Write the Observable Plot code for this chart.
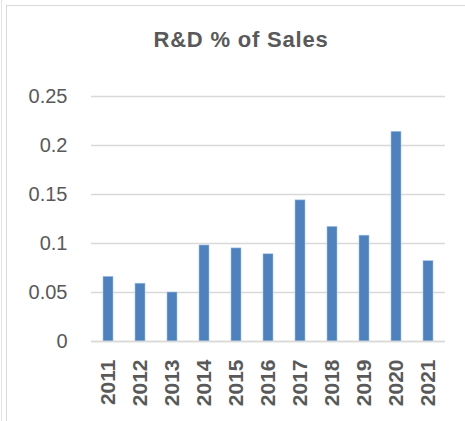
<!DOCTYPE html>
<html>
<head>
<meta charset="utf-8">
<script src="https://cdn.jsdelivr.net/npm/d3@7"></script>
<script src="https://cdn.jsdelivr.net/npm/@observablehq/plot@0.6"></script>
<style>
  html, body { margin: 0; padding: 0; background: #fff; }
  #wrap { position: relative; width: 465px; height: 421px; overflow: hidden; }
  #edge { position: absolute; left: 1px; top: 0; width: 1px; height: 421px; background: #e3e3e3; }
  #frame { position: absolute; left: 6px; top: 5px; width: 480px; height: 440px; border: 1px solid #d9d9d9; box-sizing: border-box; }
  #title { position: absolute; left: 0; top: 27px; width: 482px; text-align: center;
           font-family: "Liberation Sans", Arial, sans-serif; font-weight: bold; font-size: 22px;
           letter-spacing: 0.8px; color: #595959; }
  #chart { position: absolute; left: 0; top: 0; }
</style>
</head>
<body>
<div id="wrap">
  <div id="edge"></div>
  <div id="frame"></div>
  <div id="title">R&amp;D % of Sales</div>
  <div id="chart"></div>
</div>
<script>
const years = ["2011","2012","2013","2014","2015","2016","2017","2018","2019","2020","2021"];
const rdPct = [0.066, 0.059, 0.050, 0.098, 0.095, 0.089, 0.144, 0.117, 0.108, 0.214, 0.082];
const yTicks = [0, 0.05, 0.1, 0.15, 0.2, 0.25];

const data = years.map((y, i) => ({year: y, value: rdPct[i]}));

const plot = Plot.plot({
  width: 465,
  height: 421,
  marginLeft: 91,
  marginRight: 20,
  marginTop: 96,
  marginBottom: 80,
  style: {fontFamily: "Liberation Sans, Arial, sans-serif", fontSize: "20px", color: "#595959", background: "transparent"},
  x: {domain: years, paddingInner: 0.69, paddingOuter: 0.345, label: null},
  y: {domain: [0, 0.25], label: null},
  marks: [
    Plot.gridY(yTicks, {stroke: "#d9d9d9", strokeOpacity: 1, strokeWidth: 1.3}),
    Plot.axisY(yTicks, {tickSize: 0, tickPadding: 24, tickFormat: d => String(d), fill: "#595959", fontSize: 20}),
    Plot.barY(data, {x: "year", y: "value", fill: "#4f81bd", stroke: "#a9c4e6", strokeWidth: 0.6}),
    Plot.ruleY([0], {stroke: "#d9d9d9", strokeWidth: 1.3}),
    Plot.axisX({tickSize: 0, tickPadding: 18, tickRotate: -90, fontWeight: "bold", fill: "#595959", fontSize: 21, label: null})
  ]
});
document.getElementById("chart").appendChild(plot);
</script>
</body>
</html>
